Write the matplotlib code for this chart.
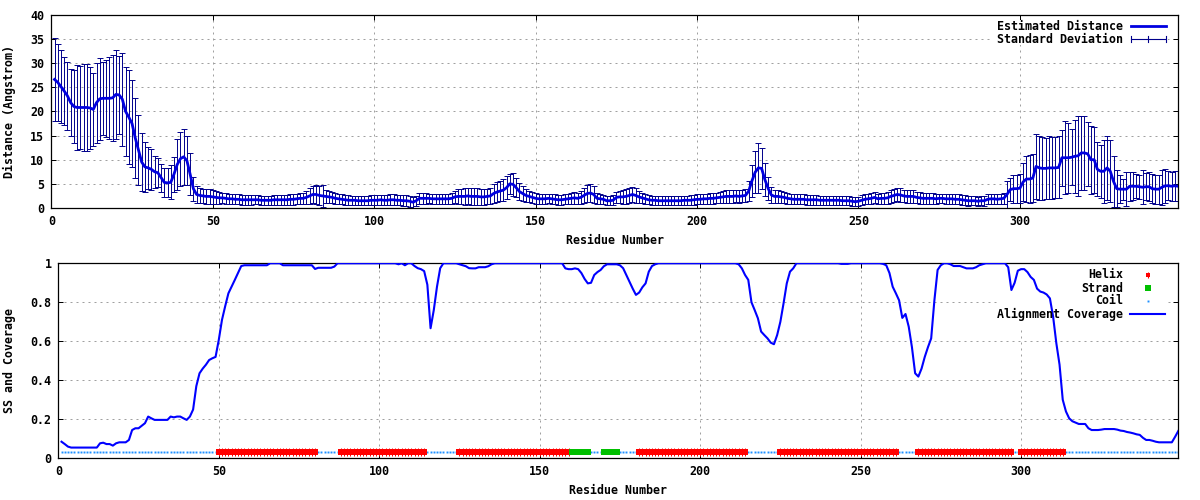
import matplotlib
matplotlib.use('Agg')
import matplotlib.pyplot as plt
from matplotlib.patches import Rectangle
import numpy as np

plt.rcParams['font.family'] = 'DejaVu Sans Mono'
plt.rcParams['font.weight'] = 'bold'
plt.rcParams['axes.labelweight'] = 'bold'
plt.rcParams['font.size'] = 8.4

# estimated distance per residue (Angstrom), residues 1..349
distance = [
    26.6, 26.0, 25.1, 24.2, 23.2, 21.8, 21.0, 20.8, 20.8, 20.8,
    20.8, 20.7, 20.4, 21.8, 22.6, 22.7, 22.7, 22.7, 22.8, 23.5,
    23.4, 22.5, 20.0, 18.8, 17.5, 14.5, 12.0, 9.5, 8.5, 8.3,
    8.0, 7.5, 7.3, 6.3, 5.3, 5.2, 5.3, 7.0, 9.0, 10.2,
    10.6, 9.8, 7.0, 4.0, 2.8, 2.6, 2.5, 2.4, 2.4, 2.3,
    2.2, 2.1, 2.1, 2.0, 1.9, 1.9, 1.8, 1.8, 1.7, 1.7,
    1.7, 1.7, 1.7, 1.7, 1.6, 1.6, 1.6, 1.6, 1.7, 1.7,
    1.7, 1.7, 1.7, 1.8, 1.8, 1.9, 2.0, 2.0, 2.2, 2.5,
    2.8, 2.8, 2.6, 2.5, 2.4, 2.3, 2.2, 2.0, 1.9, 1.8,
    1.7, 1.6, 1.6, 1.6, 1.5, 1.5, 1.5, 1.5, 1.6, 1.6,
    1.6, 1.7, 1.6, 1.6, 1.7, 1.7, 1.6, 1.6, 1.5, 1.5,
    1.4, 1.2, 1.5, 2.0, 2.0, 2.0, 2.0, 1.9, 1.9, 1.9,
    1.9, 1.9, 1.9, 2.0, 2.3, 2.4, 2.4, 2.4, 2.5, 2.4,
    2.4, 2.4, 2.3, 2.3, 2.4, 2.5, 3.0, 3.3, 3.5, 3.7,
    4.2, 5.0, 4.9, 4.2, 3.4, 3.0, 2.6, 2.4, 2.2, 2.0,
    1.9, 1.9, 1.9, 2.0, 1.9, 1.8, 1.7, 1.7, 1.8, 1.9,
    2.0, 2.1, 2.0, 2.2, 2.6, 3.0, 3.1, 2.8, 2.0, 1.9,
    1.8, 1.5, 1.5, 1.6, 2.2, 2.3, 2.3, 2.4, 2.6, 2.8,
    2.6, 2.3, 2.1, 1.9, 1.7, 1.6, 1.6, 1.5, 1.5, 1.5,
    1.5, 1.5, 1.5, 1.5, 1.5, 1.6, 1.6, 1.6, 1.7, 1.8,
    1.8, 1.9, 1.9, 2.0, 2.0, 2.1, 2.2, 2.3, 2.4, 2.4,
    2.4, 2.5, 2.4, 2.5, 2.6, 3.5, 5.6, 7.4, 8.3, 8.2,
    5.9, 4.1, 2.7, 2.4, 2.4, 2.3, 2.2, 2.0, 1.9, 1.8,
    1.8, 1.8, 1.8, 1.7, 1.7, 1.7, 1.7, 1.6, 1.6, 1.6,
    1.6, 1.6, 1.6, 1.6, 1.5, 1.5, 1.5, 1.4, 1.3, 1.4,
    1.6, 1.8, 1.9, 2.0, 2.2, 1.9, 2.0, 2.0, 2.1, 2.4,
    2.6, 2.8, 2.7, 2.5, 2.4, 2.4, 2.4, 2.2, 2.1, 2.0,
    2.0, 2.0, 2.0, 1.9, 2.0, 2.0, 1.9, 1.9, 1.9, 1.8,
    1.8, 1.7, 1.6, 1.5, 1.5, 1.5, 1.4, 1.5, 1.5, 1.8,
    1.9, 1.9, 1.8, 1.9, 2.0, 2.8, 3.8, 4.0, 4.0, 4.1,
    5.4, 6.0, 6.0, 6.2, 8.6, 8.3, 8.2, 8.2, 8.3, 8.3,
    8.3, 8.4, 10.4, 10.4, 10.4, 10.5, 10.7, 10.8, 11.4, 11.4,
    11.2, 10.0, 10.0, 8.0, 7.6, 7.6, 8.3, 7.6, 5.5, 4.0,
    3.9, 3.9, 3.9, 4.5, 4.5, 4.5, 4.4, 4.3, 4.4, 4.4,
    4.0, 3.9, 3.9, 4.3, 4.6, 4.6, 4.5, 4.6, 4.5,
]

# standard deviation per residue
std_dev = [
    8.6, 8.0, 7.6, 7.0, 7.0, 6.9, 7.5, 8.7, 8.6, 9.0,
    9.0, 8.5, 7.6, 8.3, 8.5, 7.5, 8.0, 8.5, 8.9, 9.2,
    8.1, 9.6, 9.2, 9.7, 9.0, 8.3, 7.2, 6.0, 5.2, 4.3,
    4.3, 3.3, 3.0, 2.9, 3.0, 3.0, 3.5, 3.6, 5.3, 5.6,
    5.8, 5.1, 4.3, 2.5, 1.7, 1.5, 1.5, 1.5, 1.5, 1.5,
    1.3, 1.2, 1.1, 1.1, 1.0, 1.0, 1.0, 1.0, 1.0, 1.0,
    1.0, 1.0, 0.9, 0.9, 0.9, 0.9, 0.9, 0.9, 1.0, 1.0,
    1.0, 1.0, 1.0, 1.1, 1.1, 1.1, 1.1, 1.2, 1.3, 1.6,
    1.8, 1.9, 2.0, 2.3, 1.4, 1.3, 1.2, 1.1, 1.0, 1.0,
    1.0, 1.0, 0.9, 0.9, 0.9, 0.9, 0.9, 0.9, 1.0, 1.0,
    1.0, 1.0, 1.0, 1.0, 1.1, 1.1, 1.0, 1.0, 1.1, 1.1,
    1.1, 1.1, 1.0, 1.1, 1.1, 1.1, 1.0, 1.0, 1.0, 1.0,
    1.0, 1.0, 1.1, 1.2, 1.3, 1.5, 1.6, 1.7, 1.7, 1.7,
    1.7, 1.7, 1.6, 1.6, 1.6, 1.7, 1.9, 2.0, 2.1, 2.3,
    2.4, 2.0, 2.4, 2.0, 1.7, 1.5, 1.3, 1.2, 1.1, 1.1,
    1.1, 1.1, 1.1, 1.0, 1.0, 1.0, 1.0, 1.0, 1.0, 1.0,
    1.1, 1.2, 1.2, 1.3, 1.5, 1.7, 1.8, 1.7, 1.1, 1.0,
    0.9, 0.9, 0.9, 1.0, 1.2, 1.3, 1.4, 1.5, 1.5, 1.6,
    1.5, 1.3, 1.1, 1.0, 0.9, 0.9, 0.9, 0.9, 0.9, 0.9,
    0.9, 0.9, 0.9, 0.9, 0.9, 0.9, 0.9, 1.0, 1.0, 1.0,
    1.0, 1.0, 1.0, 1.1, 1.1, 1.1, 1.2, 1.2, 1.3, 1.3,
    1.3, 1.3, 1.3, 1.3, 1.4, 2.0, 3.4, 4.3, 5.1, 4.3,
    3.5, 2.4, 1.6, 1.4, 1.4, 1.3, 1.2, 1.1, 1.0, 1.0,
    1.0, 1.0, 1.0, 1.0, 1.0, 1.0, 1.0, 0.9, 0.9, 0.9,
    0.9, 0.9, 0.9, 0.9, 0.9, 0.9, 0.9, 0.9, 0.9, 0.9,
    1.0, 1.0, 1.1, 1.1, 1.2, 1.1, 1.1, 1.1, 1.2, 1.3,
    1.4, 1.4, 1.4, 1.3, 1.3, 1.3, 1.3, 1.2, 1.2, 1.1,
    1.1, 1.1, 1.1, 1.0, 1.0, 1.0, 1.0, 1.0, 1.0, 1.0,
    1.0, 1.0, 1.0, 1.0, 0.9, 0.9, 0.9, 0.9, 1.0, 1.0,
    1.0, 1.0, 1.0, 1.0, 1.1, 2.7, 2.4, 2.9, 2.9, 3.0,
    4.0, 4.8, 5.0, 5.0, 6.8, 6.6, 6.5, 6.3, 6.5, 6.4,
    6.3, 6.4, 5.8, 7.5, 7.2, 5.8, 7.6, 8.3, 7.6, 7.6,
    6.6, 7.0, 6.8, 5.6, 5.5, 6.5, 6.6, 6.4, 5.2, 3.8,
    2.9, 2.2, 3.5, 3.0, 2.9, 2.5, 2.5, 3.5, 2.8, 3.0,
    3.0, 3.0, 3.0, 3.6, 3.5, 3.0, 3.0, 3.1, 3.1,
]

# alignment coverage per residue
coverage = [
    0.085, 0.073, 0.060, 0.055, 0.055, 0.055, 0.055, 0.055, 0.055, 0.055,
    0.055, 0.055, 0.077, 0.080, 0.073, 0.073, 0.065, 0.077, 0.082, 0.082,
    0.082, 0.094, 0.145, 0.154, 0.154, 0.167, 0.180, 0.214, 0.205, 0.197,
    0.197, 0.197, 0.197, 0.197, 0.214, 0.210, 0.214, 0.214, 0.205, 0.197,
    0.214, 0.250, 0.370, 0.436, 0.460, 0.480, 0.504, 0.513, 0.520, 0.607,
    0.710, 0.780, 0.846, 0.880, 0.915, 0.950, 0.986, 0.990, 0.990, 0.990,
    0.990, 0.990, 0.990, 0.990, 0.990, 1.000, 1.000, 1.000, 1.000, 0.990,
    0.990, 0.990, 0.990, 0.990, 0.990, 0.990, 0.990, 0.990, 0.990, 0.971,
    0.977, 0.977, 0.977, 0.977, 0.977, 0.983, 1.000, 1.000, 1.000, 1.000,
    1.000, 1.000, 1.000, 1.000, 1.000, 1.000, 1.000, 1.000, 1.000, 1.000,
    1.000, 1.000, 1.000, 1.000, 1.000, 0.995, 1.000, 0.990, 1.000, 1.000,
    0.986, 0.975, 0.970, 0.960, 0.890, 0.667, 0.760, 0.880, 0.975, 1.000,
    1.000, 1.000, 1.000, 1.000, 0.995, 0.990, 0.985, 0.975, 0.974, 0.974,
    0.980, 0.980, 0.980, 0.985, 0.995, 1.000, 1.000, 1.000, 1.000, 1.000,
    1.000, 1.000, 1.000, 1.000, 1.000, 1.000, 1.000, 1.000, 1.000, 1.000,
    1.000, 1.000, 1.000, 1.000, 1.000, 1.000, 1.000, 0.974, 0.970, 0.970,
    0.974, 0.970, 0.950, 0.920, 0.897, 0.900, 0.940, 0.955, 0.966, 0.985,
    0.995, 0.995, 0.995, 0.995, 0.990, 0.975, 0.940, 0.906, 0.870, 0.838,
    0.850, 0.877, 0.897, 0.957, 0.986, 0.995, 1.000, 1.000, 1.000, 1.000,
    1.000, 1.000, 1.000, 1.000, 1.000, 1.000, 1.000, 1.000, 1.000, 1.000,
    1.000, 1.000, 1.000, 1.000, 1.000, 1.000, 1.000, 1.000, 1.000, 1.000,
    1.000, 0.995, 0.974, 0.940, 0.915, 0.800, 0.760, 0.718, 0.650, 0.632,
    0.615, 0.593, 0.585, 0.632, 0.700, 0.795, 0.897, 0.957, 0.974, 1.000,
    1.000, 1.000, 1.000, 1.000, 1.000, 1.000, 1.000, 1.000, 1.000, 1.000,
    1.000, 1.000, 1.000, 0.997, 0.997, 0.997, 1.000, 1.000, 1.000, 1.000,
    1.000, 1.000, 1.000, 1.000, 1.000, 1.000, 0.997, 0.990, 0.950, 0.880,
    0.846, 0.810, 0.720, 0.740, 0.675, 0.570, 0.436, 0.419, 0.460, 0.520,
    0.570, 0.615, 0.810, 0.966, 0.990, 1.000, 1.000, 0.995, 0.986, 0.986,
    0.986, 0.980, 0.974, 0.974, 0.974, 0.980, 0.990, 0.995, 1.000, 1.000,
    1.000, 1.000, 1.000, 1.000, 1.000, 0.980, 0.863, 0.900, 0.962, 0.970,
    0.970, 0.955, 0.930, 0.915, 0.870, 0.855, 0.850, 0.840, 0.820, 0.726,
    0.590, 0.480, 0.300, 0.240, 0.205, 0.190, 0.183, 0.176, 0.176, 0.176,
    0.154, 0.145, 0.145, 0.145, 0.147, 0.150, 0.150, 0.150, 0.150, 0.147,
    0.142, 0.140, 0.135, 0.132, 0.128, 0.123, 0.120, 0.105, 0.094, 0.094,
    0.090, 0.085, 0.082, 0.082, 0.082, 0.082, 0.082, 0.110, 0.140,
]

# secondary structure segments (first, last residue)
helix_segments = [(50, 80), (88, 114), (125, 159), (181, 214), (225, 261), (268, 297), (300, 313)]
strand_segments = [(160, 165), (170, 174)]
ss_level = 0.03

residues = np.arange(1, len(distance) + 1)
ss = np.array(['C'] * len(residues))
for a, b in helix_segments:
    ss[a - 1:b] = 'H'
for a, b in strand_segments:
    ss[a - 1:b] = 'E'

blue = '#0000ff'
dark = '#00008b'
gridc = '#a0a0a0'

fig = plt.figure(figsize=(12, 5), dpi=100)
ax1 = fig.add_axes([0.04275, 0.584, 0.939, 0.3866])
ax2 = fig.add_axes([0.0486, 0.0834, 0.9333, 0.39])

def style(ax):
    ax.set_xlim(0, len(residues))
    ax.set_xticks(np.arange(0, 301, 50))
    ax.set_axisbelow(True)
    ax.grid(True, color=gridc, lw=0.72, ls=(0, (2, 4)))
    ax.tick_params(direction='in', top=True, right=True, length=3.6, width=0.72)
    ax.tick_params(axis='x', pad=5)
    ax.tick_params(axis='y', pad=5)
    for lab in ax.get_xticklabels() + ax.get_yticklabels():
        lab.set_fontweight('bold')
    for s in ax.spines.values():
        s.set_linewidth(0.9)

# top: estimated distance with error bars
ax1.set_ylim(0, 40)
ax1.set_yticks(np.arange(0, 41, 5))
style(ax1)
ax1.errorbar(residues, distance, yerr=std_dev, fmt='none', ecolor=dark,
             elinewidth=0.7, capsize=2.3, capthick=0.7, zorder=2)
ax1.plot(residues, distance, color='#0000e0', lw=2.0, zorder=3)
ax1.set_xlabel('Residue Number')
ax1.set_ylabel('Distance (Angstrom)')
ax1.xaxis.set_label_coords(0.5, -0.1345)
ax1.yaxis.set_label_coords(-0.0313, 0.5)

# key of the top plot
ax1.add_patch(Rectangle((0.836, 0.843), 0.155, 0.13, transform=ax1.transAxes,
                        facecolor='white', edgecolor='none', zorder=1))
ax1.text(0.951, 0.9415, 'Estimated Distance', transform=ax1.transAxes, ha='right', va='center', zorder=4)
ax1.plot([0.958, 0.989], [0.9415, 0.9415], transform=ax1.transAxes, color='#0000e0', lw=2.0, zorder=4)
ax1.text(0.951, 0.874, 'Standard Deviation', transform=ax1.transAxes, ha='right', va='center', zorder=4)
ax1.plot([0.958, 0.989], [0.874, 0.874], transform=ax1.transAxes, color=dark, lw=0.8, zorder=4)
for xk in (0.958, 0.9735, 0.989):
    ax1.plot([xk, xk], [0.874 - 0.017, 0.874 + 0.017], transform=ax1.transAxes, color=dark, lw=0.8, zorder=4)

# bottom: secondary structure and coverage
ax2.set_ylim(0, 1)
ax2.set_yticks([0, 0.2, 0.4, 0.6, 0.8, 1])
ax2.set_yticklabels(['0', '0.2', '0.4', '0.6', '0.8', '1'])
style(ax2)
coil = residues[ss == 'C']
helix = residues[ss == 'H']
strand = residues[ss == 'E']
ax2.plot(coil, np.full(len(coil), ss_level), ls='none', marker='s', ms=1.4, mew=0, color='#1e90ff', zorder=2)
ax2.plot(helix, np.full(len(helix), ss_level), ls='none', marker='s', ms=3.7, mew=0, color='#ff0000', zorder=2)
ax2.plot(helix, np.full(len(helix), ss_level), ls='none', marker='|', ms=5.2, mew=0.7, color='#ff0000', zorder=2)
ax2.plot(strand, np.full(len(strand), ss_level), ls='none', marker='s', ms=4.8, mew=0, color='#00c000', zorder=2)
ax2.plot(residues, coverage, color=blue, lw=1.5, zorder=3)
ax2.set_xlabel('Residue Number')
ax2.set_ylabel('SS and Coverage')
ax2.xaxis.set_label_coords(0.5, -0.1318)
ax2.yaxis.set_label_coords(-0.0378, 0.5)

# key of the bottom plot
ax2.add_patch(Rectangle((0.840, 0.675), 0.149, 0.325, transform=ax2.transAxes,
                        facecolor='white', edgecolor='none', zorder=1))
rows = [0.940, 0.873, 0.807, 0.740]
ax2.text(0.9506, rows[0], 'Helix', transform=ax2.transAxes, ha='right', va='center', zorder=4)
ax2.plot([0.9727], [rows[0]], transform=ax2.transAxes, marker='s', ms=3.4, mew=0, color='#ff0000', zorder=4)
ax2.plot([0.9727], [rows[0]], transform=ax2.transAxes, marker='|', ms=4.6, mew=0.8, color='#ff0000', zorder=4)
ax2.text(0.9506, rows[1], 'Strand', transform=ax2.transAxes, ha='right', va='center', zorder=4)
ax2.plot([0.9727], [rows[1]], transform=ax2.transAxes, marker='s', ms=4.8, mew=0, color='#00c000', zorder=4)
ax2.text(0.9506, rows[2], 'Coil', transform=ax2.transAxes, ha='right', va='center', zorder=4)
ax2.plot([0.9727], [rows[2]], transform=ax2.transAxes, marker='s', ms=1.4, mew=0, color='#1e90ff', zorder=4)
ax2.text(0.9506, rows[3], 'Alignment Coverage', transform=ax2.transAxes, ha='right', va='center', zorder=4)
ax2.plot([0.957, 0.988], [rows[3], rows[3]], transform=ax2.transAxes, color=blue, lw=1.5, zorder=4)

fig.savefig('out.png', dpi=100)
